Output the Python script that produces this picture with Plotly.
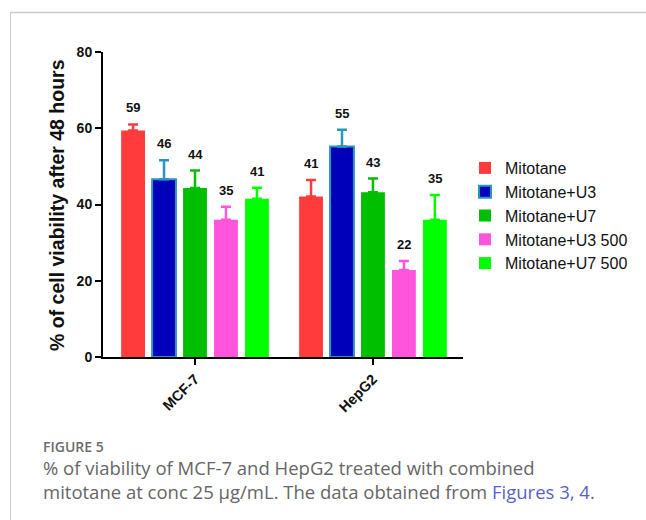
import plotly.graph_objects as go

categories = ["MCF-7", "HepG2"]
series_names = ["Mitotane", "Mitotane+U3", "Mitotane+U7", "Mitotane+U3 500", "Mitotane+U7 500"]
# means per series: [MCF-7, HepG2]
means = [
    [59.4, 42.1],
    [46.6, 55.2],
    [44.3, 43.2],
    [36.0, 22.8],
    [41.5, 36.0],
]
errors = [
    [1.6, 4.3],
    [5.0, 4.4],
    [4.6, 3.6],
    [3.4, 2.4],
    [2.9, 6.5],
]
labels = [
    ["59", "41"],
    ["46", "55"],
    ["44", "43"],
    ["35", "22"],
    ["41", "35"],
]
y_ticks = [0, 20, 40, 60, 80]

fill_colors = ["#FF3B3B", "#0000BB", "#00BF00", "#FF55DD", "#00FF00"]
line_colors = ["#FF3B3B", "#2A95BE", "#00BF00", "#FF55DD", "#00FF00"]
line_widths = [0, 2, 0, 0, 0]

BARGAP = 0.13
fig = go.Figure()
for i, name in enumerate(series_names):
    fig.add_trace(go.Bar(
        x=categories, y=means[i], name=name,
        marker=dict(color=fill_colors[i], line=dict(color=line_colors[i], width=line_widths[i])),
        error_y=dict(type="data", array=errors[i], arrayminus=[0, 0], symmetric=False,
                     color=line_colors[i], thickness=2.5, width=5),
    ))

slot = (1 - BARGAP) / len(series_names)
annotations = []
for i in range(len(series_names)):
    for j in range(len(categories)):
        annotations.append(dict(
            x=j + (i - (len(series_names) - 1) / 2) * slot, y=means[i][j] + errors[i][j],
            xref="x", yref="y", text=labels[i][j], showarrow=False,
            yanchor="bottom", yshift=7,
            font=dict(family="Liberation Sans, Arial", size=13, color="#111111", weight="bold"),
        ))

# y axis title
annotations.append(dict(
    x=(44 - 103) / 360, y=(357 - 205) / 305, xref="paper", yref="paper",
    text="<b>% of cell viability after 48 hours</b>", textangle=-90, showarrow=False,
    font=dict(family="Liberation Sans, Arial", size=19.5, color="#111111"),
))
# caption
annotations.append(dict(
    x=(41 - 103) / 360, y=(357 - 446) / 305, xref="paper", yref="paper",
    xanchor="left", yanchor="middle", text="FIGURE 5", showarrow=False,
    font=dict(family="Open Sans", size=14, color="#6b6b6b", weight=600),
))
annotations.append(dict(
    x=(41 - 103) / 360, y=(357 - 479) / 305, xref="paper", yref="paper",
    xanchor="left", yanchor="middle", align="left", showarrow=False,
    text=("% of viability of MCF-7 and HepG2 treated with combined<br>"
          "mitotane at conc 25 µg/mL. The data obtained from "
          "<span style='color:#5B5FC7'>Figures 3, 4</span>."),
    font=dict(family="Open Sans", size=18.5, color="#666666"),
))

shapes = [
    dict(type="line", xref="paper", yref="paper",
         x0=(10.5 - 103) / 360, x1=(10.5 - 103) / 360, y0=(357 - 12) / 305, y1=(357 - 530) / 305,
         line=dict(color="#CCCCCC", width=1)),
    dict(type="line", xref="paper", yref="paper",
         x0=(10.5 - 103) / 360, x1=(660 - 103) / 360, y0=(357 - 12.5) / 305, y1=(357 - 12.5) / 305,
         line=dict(color="#CCCCCC", width=1.5)),
]

fig.update_layout(
    width=646, height=520,
    margin=dict(l=103, r=183, t=52, b=163, autoexpand=False),
    paper_bgcolor="white", plot_bgcolor="white",
    barmode="group", bargap=BARGAP, bargroupgap=0.23,
    showlegend=True,
    legend=dict(x=(465 - 103) / 360, y=(357 - 151) / 305, xanchor="left", yanchor="top",
                font=dict(family="Liberation Sans, Arial", size=16, color="#111111"),
                bgcolor="rgba(0,0,0,0)"),
    annotations=annotations, shapes=shapes,
    font=dict(family="Liberation Sans, Arial", color="#111111"),
)
fig.update_xaxes(
    type="category", range=[-0.517, 1.506], showline=True, linecolor="black", linewidth=2,
    ticks="outside", ticklen=6, tickwidth=2, tickcolor="black", tickangle=-45,
    tickfont=dict(family="Liberation Sans, Arial", size=14.5, color="#111111", weight="bold"),
    showgrid=False, zeroline=False,
)
fig.update_yaxes(
    range=[0, 80], tickvals=y_ticks, showline=True, linecolor="black", linewidth=2,
    ticks="outside", ticklen=6, tickwidth=2, tickcolor="black",
    tickfont=dict(family="Liberation Sans, Arial", size=14, color="#111111", weight="bold"),
    showgrid=False, zeroline=False,
)
fig.write_html("out.html", config={"displayModeBar": False},
               post_script="document.body.style.margin='0';")
